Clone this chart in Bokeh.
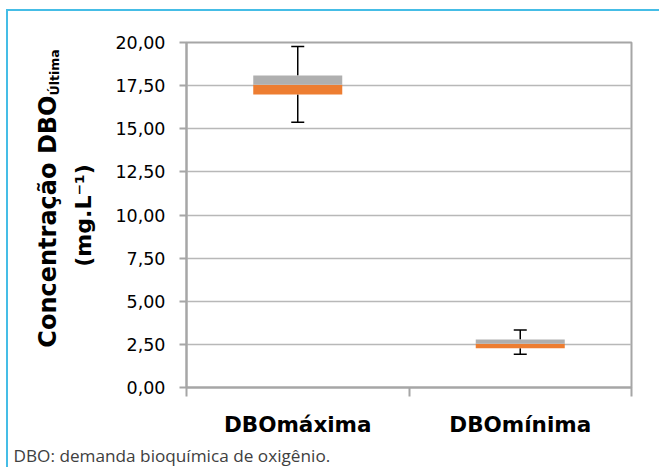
import math
from bokeh.plotting import figure
from bokeh.models import Range1d, FixedTicker, Label, ColumnDataSource
from bokeh.embed import file_html
from bokeh.resources import INLINE

# ---- data ----
categories = ["DBOmáxima", "DBOmínima"]
whisker_low = [15.38, 1.93]
q1 = [16.99, 2.28]
median = [17.55, 2.53]
q3 = [18.09, 2.78]
whisker_high = [19.77, 3.34]

y_ticks = [0, 2.5, 5, 7.5, 10, 12.5, 15, 17.5, 20]
y_tick_labels = ["0,00", "2,50", "5,00", "7,50", "10,00", "12,50", "15,00", "17,50", "20,00"]

y_title = "Concentração DBO"
y_title_sub = "Última"
y_title_2 = "(mg.L⁻¹)"
footer = "DBO: demanda bioquímica de oxigênio."

# ---- colours / styles ----
ORANGE = "#ed7d31"
GRAY_BOX = "#afafaf"
AXIS_GRAY = "#a6a6a6"
GRID_GRAY = "#b8b8b8"
BLUE = "#45bde6"

W, H = 659, 467
F_LEFT, F_RIGHT, F_TOP, F_BOTTOM = 186, 631, 42, 387  # frame edges in pixels

xpos = [i + 0.5 for i in range(len(categories))]
bounds = [i for i in range(len(categories) + 1)]
x0, x1 = 0, len(categories)
y0, y1 = y_ticks[0], y_ticks[-1]


def px_to_x(px):
    return x0 + (px - F_LEFT) / (F_RIGHT - F_LEFT) * (x1 - x0)


def py_to_y(py):
    return y0 + (F_BOTTOM - py) / (F_BOTTOM - F_TOP) * (y1 - y0)


src = ColumnDataSource(dict(x=xpos, lo=whisker_low, q1=q1, med=median, q3=q3, hi=whisker_high))

p = figure(width=W, height=H, output_backend="svg", toolbar_location=None,
           x_range=Range1d(x0, x1), y_range=Range1d(y0, y1),
           min_border_left=F_LEFT, min_border_right=W - F_RIGHT,
           min_border_top=F_TOP, min_border_bottom=H - F_BOTTOM)
p.background_fill_color = "white"
p.border_fill_color = None
p.styles = {
    "background": ("linear-gradient(%s,%s) 6px 9px / 2px 460px no-repeat, "
                   "linear-gradient(%s,%s) 6px 9px / 653px 2px no-repeat, white") % (BLUE, BLUE, BLUE, BLUE)
}
p.outline_line_color = AXIS_GRAY
p.outline_line_width = 2

# whisker stems and caps
p.segment(x0="x", y0="lo", x1="x", y1="q1", source=src, line_color="black", line_width=1.5)
p.segment(x0="x", y0="q3", x1="x", y1="hi", source=src, line_color="black", line_width=1.5)
p.scatter(x="x", y="lo", source=src, marker="dash", size=13, line_color="black", line_width=1.5)
p.scatter(x="x", y="hi", source=src, marker="dash", size=13, line_color="black", line_width=1.5)

# boxes
p.vbar(x="x", width=0.4, bottom="q1", top="med", source=src, fill_color=ORANGE, line_color=None)
p.vbar(x="x", width=0.4, bottom="med", top="q3", source=src, fill_color=GRAY_BOX, line_color=None)

# y axis
p.yaxis.ticker = FixedTicker(ticks=y_ticks)
p.yaxis.major_label_overrides = dict(zip(y_ticks, y_tick_labels))
p.yaxis.major_label_text_font = "DejaVu Sans"
p.yaxis.major_label_text_font_size = "17.5px"
p.yaxis.major_label_text_color = "black"
p.yaxis.axis_line_color = AXIS_GRAY
p.yaxis.axis_line_width = 2
p.yaxis.major_tick_line_color = AXIS_GRAY
p.yaxis.major_tick_line_width = 2
p.yaxis.major_tick_out = 7
p.yaxis.major_tick_in = 0
p.yaxis.minor_tick_line_color = None
p.yaxis.major_label_standoff = 14

# x axis
p.xaxis.ticker = FixedTicker(ticks=xpos, minor_ticks=bounds)
p.xaxis.major_label_overrides = dict(zip(xpos, categories))
p.xaxis.major_label_text_font = "DejaVu Sans"
p.xaxis.major_label_text_font_style = "bold"
p.xaxis.major_label_text_font_size = "21.5px"
p.xaxis.major_label_text_color = "black"
p.xaxis.axis_line_color = AXIS_GRAY
p.xaxis.axis_line_width = 2
p.xaxis.major_tick_line_color = None
p.xaxis.major_tick_out = 0
p.xaxis.major_tick_in = 0
p.xaxis.minor_tick_line_color = AXIS_GRAY
p.xaxis.minor_tick_line_width = 2
p.xaxis.minor_tick_out = 9
p.xaxis.minor_tick_in = 0
p.xaxis.major_label_standoff = 15

p.xgrid.grid_line_color = None
p.ygrid.ticker = FixedTicker(ticks=y_ticks)
p.ygrid.grid_line_color = GRID_GRAY
p.ygrid.grid_line_width = 1.5

# texts outside the frame: labels placed in side panels (not clipped), positioned in data units
common = dict(x_units="data", y_units="data", text_color="black", text_font="DejaVu Sans",
              text_font_style="bold", text_baseline="alphabetic", angle=math.pi / 2)
p.add_layout(Label(x=px_to_x(47), y=py_to_y(95), text=y_title, text_align="right",
                   text_font_size="24px", **common), "left")
p.add_layout(Label(x=px_to_x(54), y=py_to_y(95), text=y_title_sub, text_align="left",
                   text_font_size="12.5px", **common), "left")
p.add_layout(Label(x=px_to_x(83), y=py_to_y(215), text=y_title_2, text_align="center",
                   text_font_size="22px", **common), "left")
p.add_layout(Label(x=px_to_x(13), y=py_to_y(455), x_units="data", y_units="data", text=footer,
                   text_align="left", text_baseline="alphabetic",
                   text_font="Open Sans", text_font_size="17.2px", text_color="#404040"), "below")

open("out.html", "w").write(file_html(p, INLINE))
